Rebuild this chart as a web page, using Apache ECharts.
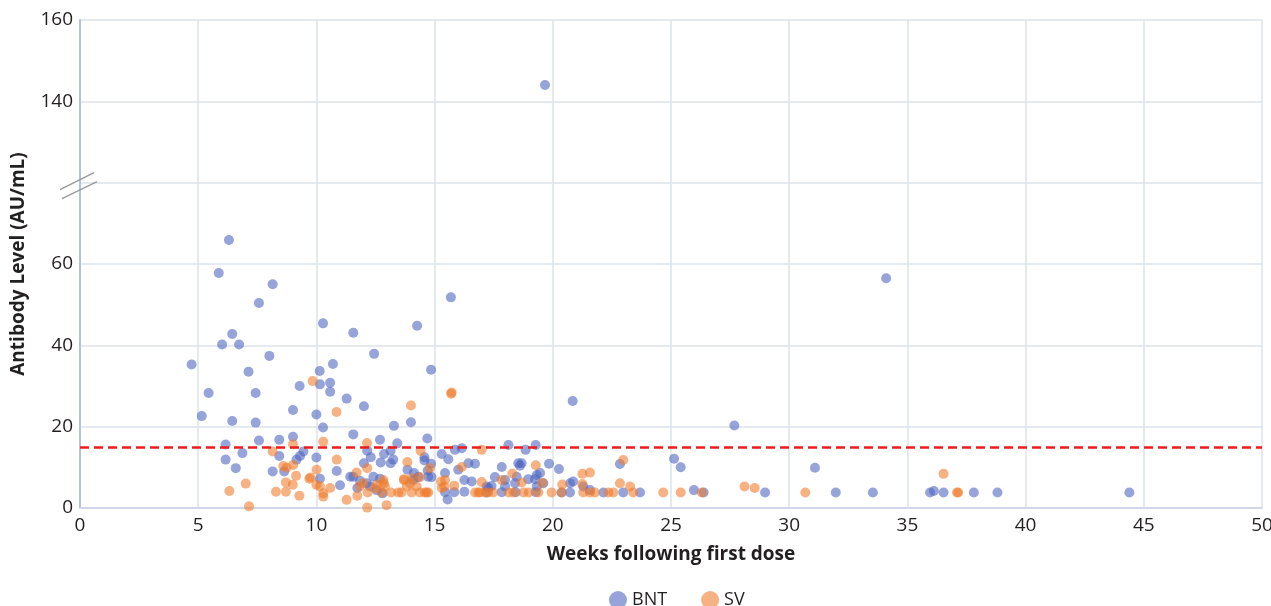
<!DOCTYPE html>
<html>
<head>
<meta charset="utf-8">
<script src="https://cdn.jsdelivr.net/npm/echarts@6/dist/echarts.min.js"></script>
<style>
  html, body { margin: 0; padding: 0; background: #fff; }
  #chart { width: 1271px; height: 606px; }
</style>
</head>
<body>
<div id="chart"></div>
<script>
// weeks following first dose, antibody level (AU/mL)
var bnt = [
  [19.67,144],[6.30,65.9],[5.87,57.8],[8.15,55.0],[7.57,50.4],[15.69,51.8],[34.1,56.5],
  [10.28,45.4],[11.56,43.1],[14.26,44.8],[6.44,42.8],[6.01,40.2],[6.73,40.2],[4.72,35.3],
  [8.01,37.4],[12.44,37.9],[7.13,33.5],[10.70,35.4],[10.14,33.7],[14.85,34.0],[5.44,28.3],
  [7.43,28.3],[10.15,30.4],[10.58,30.8],[10.58,28.6],[9.29,30.0],[11.28,26.9],[12.01,25.0],
  [9.01,24.1],[10.0,23.0],[5.15,22.6],[6.44,21.4],[7.43,21.0],[10.28,19.8],[13.28,20.2],
  [14.0,21.1],[20.84,26.3],[27.68,20.3],[11.56,18.1],[12.69,16.8],[13.42,15.9],[14.69,17.1],
  [6.16,15.6],[7.57,16.6],[8.43,16.8],[9.01,17.5],[8.43,12.8],[6.87,13.5],[6.16,11.9],
  [6.59,9.8],[8.15,9.0],[8.64,9.0],[9.16,11.9],[9.31,12.8],[9.45,13.9],[10.0,12.4],
  [10.15,7.2],[10.86,9.1],[11.0,5.6],[12.15,14.1],[12.3,12.5],[12.72,11.2],[12.86,13.3],
  [13.14,14.1],[13.25,11.9],[13.14,11.0],[12.01,11.0],[11.43,7.7],[11.56,7.7],[11.73,4.9],
  [12.41,7.7],[12.69,7.2],[11.84,6.7],[12.13,6.1],[12.27,5.3],[12.55,4.4],[12.8,3.6],
  [13.85,9.4],[14.13,8.6],[14.57,12.5],[14.57,11.7],[14.85,10.9],[14.71,9.2],[14.1,6.9],
  [14.31,7.6],[14.73,7.7],[14.87,7.6],[15.3,13.3],[15.58,12.0],[15.86,14.3],[16.15,14.7],
  [16.0,9.4],[15.44,8.6],[16.43,11.0],[16.71,10.9],[16.26,6.9],[16.57,6.5],[16.26,4.0],
  [15.83,3.9],[15.44,3.9],[15.55,2.1],[17.2,5.3],[17.2,3.8],[18.12,15.5],[19.28,15.5],
  [18.85,14.3],[19.84,10.9],[20.26,9.6],[18.54,11.0],[18.68,11.0],[18.61,10.4],[17.84,10.1],
  [17.55,7.6],[17.98,6.9],[17.98,5.3],[18.47,7.7],[18.4,6.1],[18.96,7.1],[19.32,8.1],
  [19.46,8.6],[19.25,7.1],[17.41,5.4],[17.27,4.9],[19.32,5.3],[19.6,6.1],[18.43,3.9],
  [19.28,3.9],[17.84,3.9],[20.73,6.1],[20.86,6.5],[20.73,3.8],[20.37,3.8],[21.29,5.3],
  [21.57,4.4],[22.14,3.8],[22.98,3.8],[23.69,3.8],[22.84,10.8],[25.13,12.1],[25.41,10.0],
  [25.97,4.4],[26.38,3.8],[28.98,3.8],[31.09,9.9],[31.97,3.8],[33.54,3.8],[35.96,3.8],
  [36.12,4.2],[36.53,3.8],[37.81,3.8],[38.81,3.8],[44.39,3.8]
];
var sv = [
  [9.84,31.2],[15.7,28.1],[15.72,28.4],[10.85,23.6],[14.0,25.2],[10.29,16.3],[12.14,16.0],
  [9.01,15.7],[8.15,13.9],[8.6,10.3],[8.74,9.9],[9.02,10.6],[9.14,7.9],[8.71,6.3],[9.0,5.7],
  [8.29,4.0],[8.71,4.0],[9.28,3.0],[9.7,7.2],[9.75,7.5],[10.01,9.4],[10.0,5.7],[10.15,5.3],
  [10.29,3.6],[10.29,2.8],[10.58,4.9],[10.86,11.9],[11.28,2.0],[11.73,3.0],[11.7,8.7],
  [12.15,9.8],[12.15,0.1],[11.84,5.3],[11.98,6.1],[12.17,3.8],[12.48,4.9],[12.56,5.7],
  [12.97,0.7],[12.83,6.9],[12.85,6.1],[12.9,5.3],[12.76,3.8],[13.16,3.8],[13.46,3.8],
  [13.6,3.8],[13.7,6.9],[13.96,6.1],[14.03,7.3],[14.03,3.8],[13.82,5.3],[14.24,5.3],
  [13.71,7.1],[13.85,11.3],[14.38,7.6],[14.41,14.0],[14.38,3.8],[14.59,3.8],[14.66,3.8],
  [14.73,3.8],[14.8,9.8],[15.27,6.5],[15.3,4.9],[15.41,5.3],[15.44,6.9],[15.83,5.5],
  [16.15,10.1],[16.71,3.8],[16.85,3.8],[16.92,3.8],[16.99,14.3],[16.99,6.4],[17.13,3.8],
  [17.27,3.8],[17.48,3.8],[17.84,6.9],[18.13,3.8],[18.29,8.5],[18.34,3.8],[18.68,6.3],
  [18.76,3.8],[18.98,3.8],[19.28,10.5],[19.39,3.8],[19.56,6.2],[19.95,3.8],[20.4,5.8],
  [20.37,3.8],[21.25,8.4],[21.57,8.7],[21.25,5.9],[21.29,3.8],[21.57,3.8],[21.78,3.8],
  [22.35,3.8],[22.56,3.8],[22.84,6.1],[22.98,11.8],[23.27,5.3],[23.4,3.8],[24.67,3.8],
  [25.41,3.8],[26.3,3.8],[28.11,5.3],[28.54,4.9],[30.68,3.8],[36.53,8.4],[37.1,3.8],
  [37.15,3.8],[6.32,4.2],[7.01,6.0],[7.15,0.4]
];
var threshold = 15;
// broken y axis: values between 80 and 120 are cut out
var breakStart = 80, breakEnd = 120;
var yTicks = [0, 20, 40, 60, 80, 100, 120]; // display positions
var yTickLabels = ['0', '20', '40', '60', '', '140', '160'];

function toDisplay(v) {
  return v > breakStart ? v - (breakEnd - breakStart) : v;
}
function shift(arr) {
  return arr.map(function (p) { return [p[0], toDisplay(p[1])]; });
}

var chart = echarts.init(document.getElementById('chart'));
var font = '"Open Sans", sans-serif';
var gridColor = '#dde3ec';

chart.setOption({
  animation: false,
  textStyle: { fontFamily: font },
  grid: { left: 80, right: 9, top: 20, bottom: 98, outerBoundsMode: 'none' },
  legend: {
    top: 586,
    left: 604,
    icon: 'circle',
    itemWidth: 18,
    itemHeight: 18,
    itemGap: 34,
    textStyle: { fontSize: 18, color: '#231f20', fontFamily: font },
    data: ['BNT', 'SV']
  },
  xAxis: {
    type: 'value',
    min: 0, max: 50, interval: 5,
    name: 'Weeks following first dose',
    nameLocation: 'middle',
    nameGap: 37,
    nameTextStyle: { fontSize: 19, fontWeight: 'bold', color: '#231f20' },
    axisLine: { show: true, lineStyle: { color: '#d0d8e6', width: 2 } },
    axisTick: { show: false },
    axisLabel: { fontSize: 19, color: '#231f20', margin: 8 },
    splitLine: { show: true, lineStyle: { color: gridColor, width: 1.5 } }
  },
  yAxis: {
    type: 'value',
    min: 0, max: 120, interval: 20,
    name: 'Antibody Level (AU/mL)',
    nameLocation: 'middle',
    nameGap: 52,
    nameTextStyle: { fontSize: 19, fontWeight: 'bold', color: '#231f20' },
    axisLine: { show: true, lineStyle: { color: '#b4c1d8', width: 2 } },
    axisTick: { show: false },
    axisLabel: {
      fontSize: 19, color: '#231f20', margin: 7,
      formatter: function (v) {
        var i = yTicks.indexOf(v);
        return i >= 0 ? yTickLabels[i] : '';
      }
    },
    splitLine: { show: true, lineStyle: { color: gridColor, width: 1.5 } }
  },
  series: [
    {
      name: 'BNT',
      type: 'scatter',
      symbolSize: 10,
      itemStyle: { color: '#4a62c0', opacity: 0.58 },
      data: shift(bnt),
      markLine: {
        silent: true,
        symbol: 'none',
        label: { show: false },
        lineStyle: { color: '#ee1c1c', width: 2.5, type: [9, 5] },
        data: [{ yAxis: toDisplay(threshold) }]
      },
      z: 3
    },
    {
      name: 'SV',
      type: 'scatter',
      symbolSize: 10,
      itemStyle: { color: '#ef7a2a', opacity: 0.58 },
      data: shift(sv),
      z: 3
    }
  ]
});

// break marks on the y axis
var c = chart.convertToPixel({ gridIndex: 0 }, [0, breakStart]);
var cx = c[0], cy = c[1];
chart.setOption({
  graphic: [
    { type: 'line', shape: { x1: cx - 20, y1: cy + 7, x2: cx + 14, y2: cy - 10 },
      style: { stroke: '#999', lineWidth: 1.3 }, z: 10 },
    { type: 'line', shape: { x1: cx - 18, y1: cy + 16, x2: cx + 17, y2: cy - 1 },
      style: { stroke: '#999', lineWidth: 1.3 }, z: 10 }
  ]
});
</script>
</body>
</html>
